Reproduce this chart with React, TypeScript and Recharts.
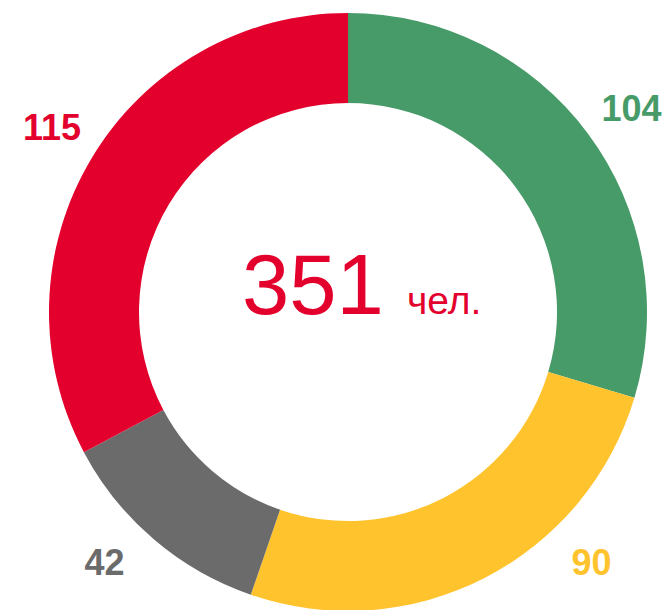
import React from "react";
import { PieChart, Pie, Cell } from "recharts";

const categories = ["Группа A", "Группа B", "Группа C", "Группа D"];
const values = [104, 90, 42, 115];
const colors = ["#479B68", "#FFC32E", "#6B6B6B", "#E3002D"];
const totalLabel = "351";
const unitLabel = "чел.";

const data = categories.map((name, i) => ({ name, value: values[i] }));

const RAD = Math.PI / 180;
const LABEL_R = 349;
const LABEL_SHIFT = -1;
const MAX_DY = 250;
const FONT = "'Liberation Sans', Arial, sans-serif";

const renderLabel = (props: any) => {
  const { cx, cy, midAngle, index, value } = props;
  const a = midAngle + LABEL_SHIFT;
  let dx = LABEL_R * Math.cos(-a * RAD);
  let dy = LABEL_R * Math.sin(-a * RAD);
  if (dy > MAX_DY) {
    dy = MAX_DY;
    dx = Math.sign(dx) * Math.sqrt(LABEL_R * LABEL_R - dy * dy);
  }
  const fs = 36;
  return (
    <g>
      <text
        x={cx + dx}
        y={cy + dy + fs * 0.358}
        textAnchor="middle"
        fill={colors[index]}
        fontFamily={FONT}
        fontWeight="bold"
        fontSize={fs}
      >
        {value}
      </text>
      {index === 0 && (
        <g>
          <text x={cx - 106} y={cy + 2} fill="#E3002D" fontFamily={FONT} fontSize={85}>
            {totalLabel}
          </text>
          <text x={cx + 59} y={cy + 2} fill="#E3002D" fontFamily={FONT} fontSize={39}>
            {unitLabel}
          </text>
        </g>
      )}
    </g>
  );
};

export default function App() {
  return (
    <div style={{ position: "absolute", left: 0, top: 0, background: "#fff" }}>
      <PieChart width={669} height={610} margin={{ top: 0, right: 0, bottom: 0, left: 0 }}>
        <Pie
          data={data}
          dataKey="value"
          nameKey="name"
          cx={348}
          cy={312}
          innerRadius={209}
          outerRadius={299}
          startAngle={90}
          endAngle={-270}
          stroke="none"
          label={renderLabel}
          labelLine={false}
          isAnimationActive={false}
        >
          {data.map((d, i) => (
            <Cell key={d.name} fill={colors[i]} />
          ))}
        </Pie>
      </PieChart>
    </div>
  );
}
